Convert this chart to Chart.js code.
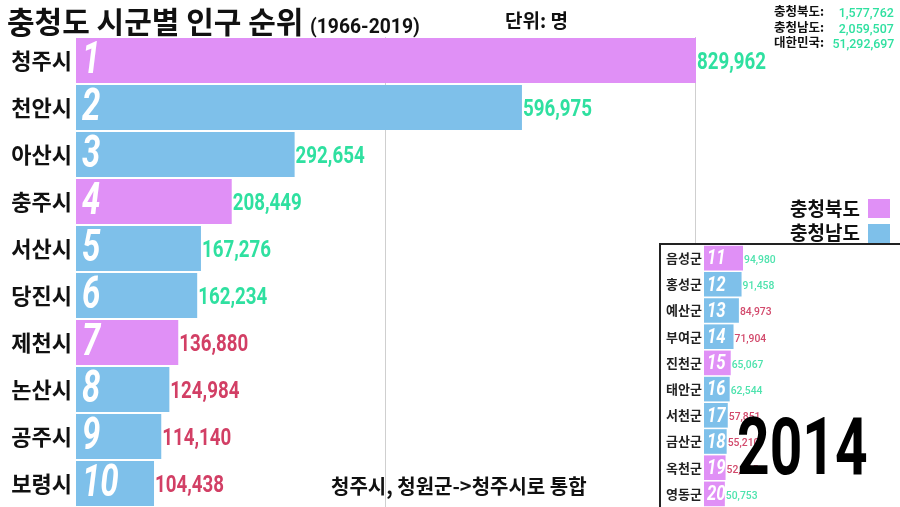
<!DOCTYPE html>
<html><head><meta charset="utf-8">
<script src="https://cdn.jsdelivr.net/npm/chart.js@4"></script>
<style>
html,body{margin:0;padding:0;background:#fff;}
#wrap{position:relative;width:900px;height:507px;overflow:hidden;font-family:"Noto Sans CJK KR","Noto Sans",sans-serif;}
.t{position:absolute;white-space:nowrap;font-weight:700;color:#111;}
.n{font-family:Roboto,"DejaVu Sans Condensed",sans-serif;display:inline-block;}
#inset{position:absolute;left:659px;top:243px;width:241px;height:264px;box-sizing:border-box;border-left:2px solid #222;border-top:2px solid #222;background:#fff;}
.sq{position:absolute;width:22px;height:19px;}
</style></head>
<body><div id="wrap">
<canvas id="main" width="900" height="507" style="position:absolute;left:0;top:0"></canvas>
<div class="t" style="left:7px;top:0px;font-size:30px;line-height:40px;">충청도 시군별 인구 순위 <span class="n" style="font-size:21px;transform:scaleX(0.92);transform-origin:left;">(1966-2019)</span></div>
<div class="t" style="left:505px;top:6px;font-size:19px;line-height:28px;">단위: 명</div>
<div id="totals"></div>
<div class="t" style="right:40px;top:194px;font-size:19px;line-height:28px;">충청북도</div>
<div class="t" style="right:40px;top:218px;font-size:19px;line-height:28px;">충청남도</div>
<div class="sq" style="left:868px;top:199px;background:#e090f6"></div>
<div class="sq" style="left:868px;top:224px;background:#7ec0ea"></div>
<div class="t" style="left:331px;top:472px;font-size:20px;line-height:28px;">청주시, 청원군->청주시로 통합</div>
<div id="inset"><canvas id="sub" width="239" height="262"></canvas></div>
<div class="t" style="left:737px;top:392px;font-size:79px;line-height:96px;color:#000;"><span class="n" id="year" style="transform:scaleX(0.72);transform-origin:left;">2014</span></div>
</div>
<script>
// ---- data ----
const year = '2014';
const labels = ['청주시','천안시','아산시','충주시','서산시','당진시','제천시','논산시','공주시','보령시'];
const values = [829962,596975,292654,208449,167276,162234,136880,124984,114140,104438];
const province = ['북','남','남','북','남','남','북','남','남','남'];
const trend = ['up','up','up','up','up','up','down','down','down','down'];

const subLabels = ['음성군','홍성군','예산군','부여군','진천군','태안군','서천군','금산군','옥천군','영동군'];
const subValues = [94980,91458,84973,71904,65067,62544,57851,55210,52525,50753];
const subProvince = ['북','남','남','남','북','남','남','남','북','북'];
const subTrend = ['up','up','down','down','up','up','down','down','down','up'];

const totalNames = ['충청북도:','충청남도:','대한민국:'];
const totalValues = [1577762,2059507,51292697];

// ---- styles ----
const PINK = '#e090f6', BLUE = '#7ec0ea';
const GREEN = '#2fe0a0', RED = '#d23f65';
const NUM = "Roboto,'DejaVu Sans Condensed',sans-serif";
const KR = "'Noto Sans CJK KR','Noto Sans',sans-serif";
const fmt = v => v.toLocaleString('en-US');

// totals text
const tot = document.getElementById('totals');
totalNames.forEach((n,i)=>{
  const top = 3 + i*15.5;
  tot.insertAdjacentHTML('beforeend',
   `<div class="t" style="right:76px;top:${top}px;font-size:12.5px;line-height:16px;">${n}</div>`+
   `<div class="t" style="right:6px;top:${top}px;font-size:13.5px;line-height:16px;color:${GREEN};font-weight:500;"><span class="n" style="transform:scaleX(0.92);transform-origin:right;">${fmt(totalValues[i])}</span></div>`);
});
document.getElementById('year').textContent = year;

function narrow(ctx, text, x, y, sx){
  ctx.save(); ctx.translate(x,y); ctx.scale(sx,1); ctx.fillText(text,0,0); ctx.restore();
}

function labelPlugin(id, vals, trends, rankStart, cfg){
  return {
    id,
    beforeDatasetsDraw(chart){
      if(!cfg.grid) return;
      const ctx = chart.ctx, a = chart.chartArea, xs = chart.scales.x;
      ctx.save();
      ctx.strokeStyle = '#cfcfcf'; ctx.lineWidth = 1;
      cfg.grid.forEach(v=>{
        const x = Math.round(xs.getPixelForValue(v))-0.5;
        ctx.beginPath(); ctx.moveTo(x,a.top); ctx.lineTo(x,a.bottom); ctx.stroke();
      });
      ctx.restore();
    },
    afterDatasetsDraw(chart){
      const ctx = chart.ctx;
      const meta = chart.getDatasetMeta(0);
      ctx.save();
      ctx.textBaseline = 'middle';
      ctx.textAlign = 'left';
      meta.data.forEach((bar,i)=>{
        ctx.fillStyle = '#fff';
        ctx.font = cfg.rankFont;
        narrow(ctx, String(rankStart+i), bar.base+cfg.rankDx, bar.y+1, cfg.rankSx);
        ctx.fillStyle = trends[i]==='up' ? cfg.green : cfg.red;
        ctx.font = cfg.valFont;
        narrow(ctx, fmt(vals[i]), bar.x+cfg.valDx, bar.y+2, cfg.valSx);
      });
      ctx.restore();
    }
  };
}

function fitY(w){
  return function(s){ s.width = w; s.paddingTop = 0; s.paddingBottom = 0; };
}

new Chart(document.getElementById('main'), {
  type:'bar',
  data:{labels, datasets:[{data:values, backgroundColor:province.map(p=>p==='북'?PINK:BLUE), borderWidth:0,
    barPercentage:0.96, categoryPercentage:1}]},
  options:{
    responsive:false, animation:false, indexAxis:'y',
    layout:{padding:{top:37,left:0,right:0,bottom:0}},
    plugins:{legend:{display:false}, tooltip:{enabled:false}},
    scales:{
      x:{min:0, max:values[0]*824/620, display:false},
      y:{afterFit:fitY(76), border:{display:false}, grid:{display:false, drawTicks:false},
        ticks:{color:'#111', padding:4, font:{family:KR, size:22, weight:'bold'}}}
    }
  },
  plugins:[labelPlugin('m', values, trend, 1, {grid:[values[0]/2, values[0]],
    rankFont:`italic bold 44px ${NUM}`, rankSx:0.75, rankDx:6,
    valFont:`bold 24px ${NUM}`, valSx:0.78, valDx:1, green:GREEN, red:RED})]
});

new Chart(document.getElementById('sub'), {
  type:'bar',
  data:{labels:subLabels, datasets:[{data:subValues, backgroundColor:subProvince.map(p=>p==='북'?PINK:BLUE), borderWidth:0,
    barPercentage:0.94, categoryPercentage:1}]},
  options:{
    responsive:false, animation:false, indexAxis:'y',
    layout:{padding:{top:0,left:0,right:0,bottom:0}},
    plugins:{legend:{display:false}, tooltip:{enabled:false}},
    scales:{
      x:{min:0, max:subValues[0]*196/39, display:false},
      y:{afterFit:fitY(43), border:{display:false}, grid:{display:false, drawTicks:false},
        ticks:{color:'#222', padding:2, font:{family:KR, size:13, weight:'bold'}}}
    }
  },
  plugins:[labelPlugin('s', subValues, subTrend, 11, {grid:null,
    rankFont:`italic bold 21px ${NUM}`, rankSx:0.8, rankDx:3,
    valFont:`500 11.5px ${NUM}`, valSx:0.9, valDx:1, green:'#4fe3ae', red:'#d24a6c'})]
});
</script>
</body></html>
